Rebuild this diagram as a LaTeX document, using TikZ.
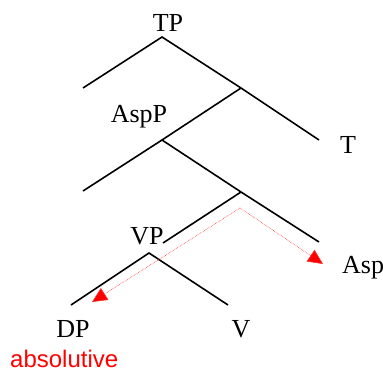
\documentclass[tikz,border=0pt]{standalone}
\usepackage{fontspec}
\setmainfont{Liberation Serif}
\newfontfamily\labelsans{Liberation Sans}
\usetikzlibrary{arrows.meta}
\definecolor{casered}{RGB}{255, 0, 0}

\begin{document}
\begin{tikzpicture}[
    x=1pt, y=-1pt,
    branch/.style={line width=1.6pt, black},
    cat/.style={anchor=base, inner sep=0pt, font=\fontsize{26}{30}\selectfont},
    caselabel/.style={anchor=base west, inner sep=0pt, text=casered, font=\labelsans\fontsize{24}{28}\selectfont},
    agree/.style={casered!80, line width=0.6pt, densely dotted, -{Triangle[length=15pt, width=14pt, fill=casered]}}
]
\useasboundingbox (0, 0) rectangle (383, 372);

% Branch points
\coordinate (tp) at (162, 37);
\coordinate (tpspec) at (83, 88);
\coordinate (tbar) at (241, 88);
\coordinate (thead) at (319, 140);
\coordinate (aspp) at (162, 140);
\coordinate (aspspec) at (83, 191);
\coordinate (aspbar) at (241, 192);
\coordinate (asphead) at (319, 242);
\coordinate (vpend) at (163, 243);
\coordinate (vp) at (149, 253);
\coordinate (dpend) at (71, 305);
\coordinate (vend) at (228, 305);

% Labels
\node[cat] (tplab) at (168, 31) {TP};
\node[cat] (aspplab) at (139, 122) {AspP};
\node[cat] (tlab) at (348, 153) {T};
\node[cat] (vplab) at (147, 244) {VP};
\node[cat, anchor=base west] (asplab) at (342, 273) {Asp};
\node[cat] (dplab) at (73, 337) {DP};
\node[cat] (vlab) at (241, 337) {V};
\node[caselabel] (abslab) at (10, 367) {absolutive};

% Tree
\draw[branch] (tpspec) -- (tp) -- (tbar) -- (thead);
\draw[branch] (tbar) -- (aspp) -- (aspbar) -- (asphead);
\draw[branch] (aspp) -- (aspspec);
\draw[branch] (vpend) -- (aspbar);
\draw[branch] (dpend) -- (vp) -- (vend);

% Agreement
\coordinate (agrtop) at (240, 208);
\coordinate (agrdp) at (92, 302);
\coordinate (agrasp) at (323, 264);
\draw[agree] (agrtop) -- (agrdp);
\draw[agree] (agrtop) -- (agrasp);

\end{tikzpicture}
\end{document}
